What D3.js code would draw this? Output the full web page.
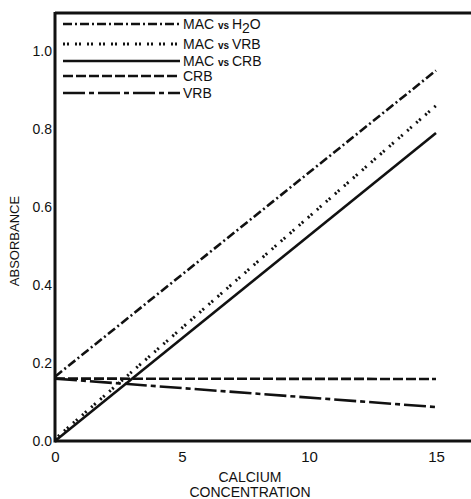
<!DOCTYPE html>
<html><head><meta charset="utf-8">
<script src="https://cdn.jsdelivr.net/npm/d3@7"></script>
<style>body{margin:0;background:#fff}svg{display:block}text{font-family:"Liberation Sans",Arial,sans-serif;fill:#111}</style>
</head><body>
<script>
const xTicks = [0, 5, 10, 15];
const yTicks = [0.0, 0.2, 0.4, 0.6, 0.8, 1.0];
const yTickLabels = ["0.0", "0.2", "0.4", "0.6", "0.8", "1.0"];
const seriesNames = ["MAC vs H2O", "MAC vs VRB", "MAC vs CRB", "CRB", "VRB"];
const xValues = [0, 15];
const macH2O = [0.165, 0.95];
const macVRB = [0.005, 0.86];
const macCRB = [0.0, 0.79];
const crb = [0.16, 0.159];
const vrb = [0.16, 0.087];
const dashes = ["9,3,2,3", "2,2,2,6", null, "10,3", "22,4,5,4"];

const W = 471, H = 499;
const svg = d3.select("body").append("svg").attr("width", W).attr("height", H);
const x = d3.scaleLinear().domain([0, 15]).range([55, 436]);
const y = d3.scaleLinear().domain([0, 1]).range([441, 51]);

// frame: left, top, bottom
svg.append("line").attr("x1", 55).attr("x2", W).attr("y1", 13).attr("y2", 13).attr("stroke", "#111").attr("stroke-width", 3);
svg.append("line").attr("x1", 55).attr("x2", W).attr("y1", y(0)).attr("y2", y(0)).attr("stroke", "#111").attr("stroke-width", 3);
svg.append("line").attr("x1", 55).attr("x2", 55).attr("y1", 12).attr("y2", y(0) + 1.5).attr("stroke", "#111").attr("stroke-width", 3);

const yAxis = d3.axisLeft(y).tickValues(yTicks).tickSize(0).tickPadding(3)
  .tickFormat((d, i) => yTickLabels[i]);
const gy = svg.append("g").attr("transform", "translate(55,0)").call(yAxis);
gy.select(".domain").remove();
gy.selectAll("text").style("font-size", "14px");

const xAxis = d3.axisBottom(x).tickValues(xTicks).tickSize(0).tickPadding(10);
const gx = svg.append("g").attr("transform", `translate(0,${y(0)})`).call(xAxis);
gx.select(".domain").remove();
gx.selectAll("text").style("font-size", "15px");

const series = [macH2O, macVRB, macCRB, crb, vrb];
const line = d3.line().x((d, i) => x(xValues[i])).y(d => y(d));
series.forEach((s, k) => {
  const p = svg.append("path").datum(s).attr("d", line).attr("fill", "none")
    .attr("stroke", "#111").attr("stroke-width", k === 1 ? 3 : 2.6);
  if (dashes[k]) p.attr("stroke-dasharray", dashes[k]);
});

// legend
const legY = [24, 44, 61, 76, 93];
seriesNames.forEach((n, k) => {
  const l = svg.append("line").attr("x1", 63).attr("x2", 180).attr("y1", legY[k]).attr("y2", legY[k])
    .attr("stroke", "#111").attr("stroke-width", k === 1 ? 3 : 2.6);
  if (dashes[k]) l.attr("stroke-dasharray", dashes[k]);
  const t = svg.append("text").attr("x", 183).attr("y", legY[k] + 5).style("font-size", "14px");
  const parts = n.split(" ");
  if (parts.length === 3) {
    t.append("tspan").text(parts[0] + " ");
    t.append("tspan").style("font-size", "10px").style("font-weight", "bold").text(parts[1] + " ");
    if (parts[2] === "H2O") {
      t.append("tspan").text("H");
      t.append("tspan").attr("dy", 4).text("2");
      t.append("tspan").attr("dy", -4).text("O");
    } else t.append("tspan").text(parts[2]);
  } else t.text(n);
});

svg.append("text").attr("transform", "translate(19,241) rotate(-90)").attr("text-anchor", "middle")
  .style("font-size", "13px").text("ABSORBANCE");
svg.append("text").attr("x", 250).attr("y", 482).attr("text-anchor", "middle").style("font-size", "14px").text("CALCIUM");
svg.append("text").attr("x", 250).attr("y", 497).attr("text-anchor", "middle").style("font-size", "14px").text("CONCENTRATION");
</script>
</body></html>
